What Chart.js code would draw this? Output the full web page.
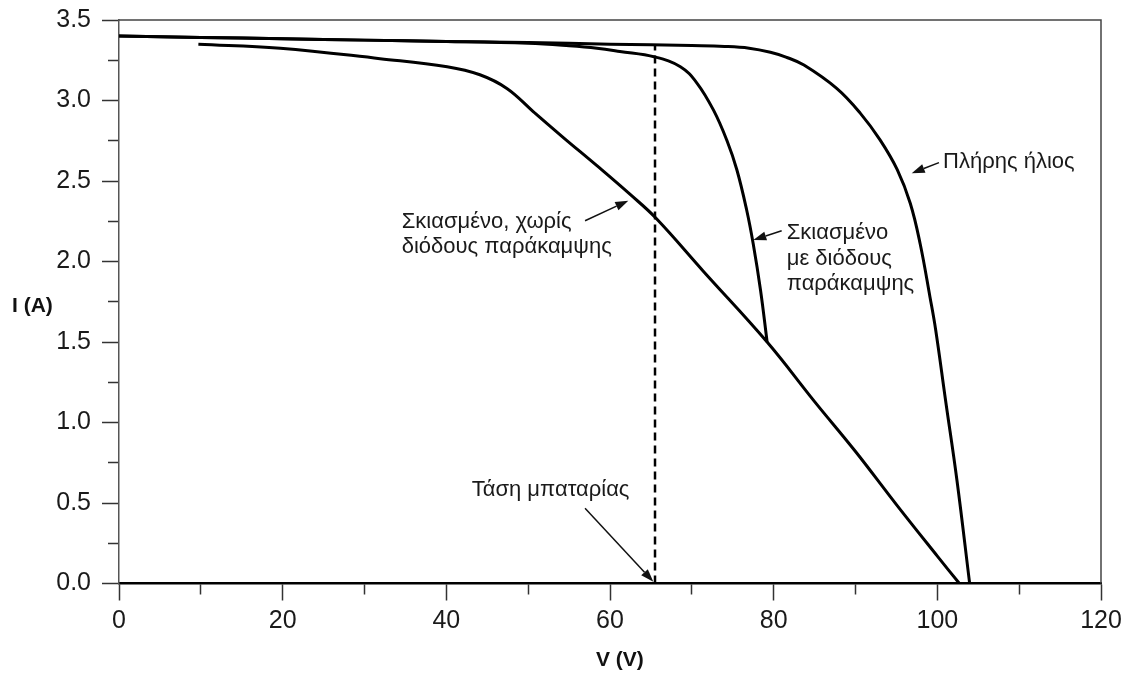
<!DOCTYPE html>
<html>
<head>
<meta charset="utf-8">
<script src="https://cdn.jsdelivr.net/npm/chart.js@4"></script>
<style>
  html, body { margin: 0; padding: 0; background: #fff; }
  #wrap { width: 1129px; height: 673px; position: relative; }
</style>
</head>
<body>
<div id="wrap"><canvas id="c"></canvas></div>
<script>
// ---- Data ----
const fullSunV = [0, 10, 20, 30, 40, 50, 60, 70, 74, 77, 79.6, 81.5, 83.7, 87.7, 90.6, 93.0, 95.1, 96.7, 97.9, 99.1, 99.8, 101.0, 102.4, 103.95];
const fullSunI = [3.40, 3.392, 3.383, 3.375, 3.367, 3.36, 3.35, 3.341, 3.336, 3.325, 3.30, 3.27, 3.22, 3.075, 2.92, 2.755, 2.57, 2.36, 2.11, 1.78, 1.575, 1.14, 0.64, 0];

const bypassV = [0, 10, 20, 30, 40, 50, 55, 58.4, 61.2, 65.5, 68.6, 70.6, 72.65, 74.3, 75.5, 76.7, 77.5, 78.4, 79.2];
const bypassI = [3.40, 3.392, 3.383, 3.375, 3.367, 3.355, 3.34, 3.325, 3.305, 3.27, 3.21, 3.11, 2.94, 2.75, 2.57, 2.32, 2.11, 1.82, 1.50];

const noBypassV = [9.7, 19.7, 31.9, 40.1, 44.1, 47.4, 50.65, 54.3, 58.4, 62.5, 65.6, 71.4, 79.2, 85, 90, 95, 100, 102.7];
const noBypassI = [3.35, 3.325, 3.26, 3.21, 3.16, 3.075, 2.93, 2.77, 2.595, 2.415, 2.27, 1.94, 1.50, 1.13, 0.82, 0.49, 0.17, 0];

const batteryV = 65.5;
const batteryLineI = [0, 3.345];

const xTickLabels = ['0', '20', '40', '60', '80', '100', '120'];
const yTickLabels = ['0.0', '0.5', '1.0', '1.5', '2.0', '2.5', '3.0', '3.5'];

const xTitle = 'V (V)';
const yTitle = 'I (A)';

// annotation texts and anchor points (data units)
const annotations = [
  { lines: ['Σκιασμένο, χωρίς', 'διόδους παράκαμψης'], at: [34.55, 2.247], tail: [56.95, 2.253], head: [62.24, 2.378] },
  { lines: ['Πλήρης ήλιος'], at: [100.7, 2.62], tail: [100.2, 2.614], head: [96.87, 2.548] },
  { lines: ['Σκιασμένο', 'με διόδους', 'παράκαμψης'], at: [81.6, 2.175], tail: [80.98, 2.191], head: [77.51, 2.134] },
  { lines: ['Τάση μπαταρίας'], at: [43.1, 0.581], tail: [56.95, 0.467], head: [65.3, 0.011] }
];

const toXY = (xs, ys) => xs.map((x, i) => ({ x: x, y: ys[i] }));

const FONT = '"Liberation Sans", Arial, Helvetica, sans-serif';

const decorPlugin = {
  id: 'decor',
  afterDraw(chart) {
    const ctx = chart.ctx;
    const xs = chart.scales.x, ys = chart.scales.y;
    const a = chart.chartArea;
    ctx.save();
    // top and right frame lines
    ctx.strokeStyle = '#444';
    ctx.lineWidth = 1.5;
    ctx.beginPath();
    ctx.moveTo(a.left, a.top);
    ctx.lineTo(a.right, a.top);
    ctx.lineTo(a.right, a.bottom);
    ctx.stroke();

    // annotations
    ctx.font = '22px ' + FONT;
    ctx.textAlign = 'left';
    ctx.textBaseline = 'middle';
    annotations.forEach(an => {
      const px = xs.getPixelForValue(an.at[0]);
      const py = ys.getPixelForValue(an.at[1]);
      ctx.fillStyle = '#1a1a1a';
      an.lines.forEach((t, k) => ctx.fillText(t, px, py + k * 25.5));
      const tx = xs.getPixelForValue(an.tail[0]), ty = ys.getPixelForValue(an.tail[1]);
      const hx = xs.getPixelForValue(an.head[0]), hy = ys.getPixelForValue(an.head[1]);
      const ang = Math.atan2(hy - ty, hx - tx);
      const L = 13, W = 4.5;
      const bx = hx - L * Math.cos(ang), by = hy - L * Math.sin(ang);
      ctx.strokeStyle = '#111';
      ctx.lineWidth = 1.5;
      ctx.beginPath();
      ctx.moveTo(tx, ty);
      ctx.lineTo(bx, by);
      ctx.stroke();
      ctx.fillStyle = '#111';
      ctx.beginPath();
      ctx.moveTo(hx, hy);
      ctx.lineTo(bx + W * Math.sin(ang), by - W * Math.cos(ang));
      ctx.lineTo(bx - W * Math.sin(ang), by + W * Math.cos(ang));
      ctx.closePath();
      ctx.fill();
    });

    // axis titles (horizontal, as in the reference)
    ctx.font = 'bold 21px ' + FONT;
    ctx.fillStyle = '#111';
    ctx.textAlign = 'left';
    ctx.fillText(yTitle, 12, ys.getPixelForValue(1.72));
    ctx.textAlign = 'center';
    ctx.fillText(xTitle, xs.getPixelForValue(61.2), 660);
    ctx.restore();
  }
};

const lineStyle = {
  borderColor: '#000',
  borderWidth: 3,
  pointRadius: 0,
  showLine: true,
  fill: false,
  tension: 0.4,
  cubicInterpolationMode: 'default'
};

new Chart(document.getElementById('c'), {
  type: 'scatter',
  data: {
    datasets: [
      Object.assign({ label: 'Πλήρης ήλιος', data: toXY(fullSunV, fullSunI) }, lineStyle),
      Object.assign({ label: 'Σκιασμένο με διόδους παράκαμψης', data: toXY(bypassV, bypassI) }, lineStyle),
      Object.assign({ label: 'Σκιασμένο, χωρίς διόδους παράκαμψης', data: toXY(noBypassV, noBypassI) }, lineStyle),
      {
        label: 'Τάση μπαταρίας',
        data: batteryLineI.map(i => ({ x: batteryV, y: i })),
        borderColor: '#000', borderWidth: 2.5, borderDash: [8, 5],
        pointRadius: 0, showLine: true, tension: 0, fill: false
      }
    ]
  },
  options: {
    responsive: true,
    maintainAspectRatio: false,
    animation: false,
    devicePixelRatio: 1,
    layout: { padding: { top: 20, right: 28, left: 0, bottom: 0 } },
    plugins: { legend: { display: false }, tooltip: { enabled: false } },
    scales: {
      x: {
        type: 'linear', min: 0, max: 120,
        afterFit: s => { s.height = 89.5; s.paddingLeft = 0; s.paddingRight = 0; },
        ticks: {
          stepSize: 10, autoSkip: false, maxRotation: 0, padding: 6,
          color: '#1a1a1a', font: { size: 25, family: FONT },
          callback: v => (v % 20 === 0 ? xTickLabels[v / 20] : '')
        },
        grid: {
          drawOnChartArea: false, drawTicks: true, tickLength: 17,
          tickWidth: 1.5, tickColor: '#333',
          tickBorderDash: c => (c.tick && c.tick.value % 20 !== 0 ? [10, 100] : [])
        },
        border: { color: '#000', width: 2.5 }
      },
      y: {
        min: 0, max: 3.5,
        afterFit: s => { s.width = 119; s.paddingTop = 0; s.paddingBottom = 0; },
        ticks: {
          stepSize: 0.25, autoSkip: false, padding: 11,
          color: '#1a1a1a', font: { size: 25, family: FONT },
          callback: v => (Math.abs(v * 2 - Math.round(v * 2)) < 1e-9 ? yTickLabels[Math.round(v * 2)] : '')
        },
        grid: {
          drawOnChartArea: false, drawTicks: true, tickLength: 17,
          tickWidth: 1.5, tickColor: '#333',
          tickBorderDash: c => (c.tick && Math.abs(c.tick.value * 2 - Math.round(c.tick.value * 2)) > 1e-9 ? [0, 6, 11, 100] : [])
        },
        border: { color: '#555', width: 1.5 }
      }
    }
  },
  plugins: [decorPlugin]
});
</script>
</body>
</html>
